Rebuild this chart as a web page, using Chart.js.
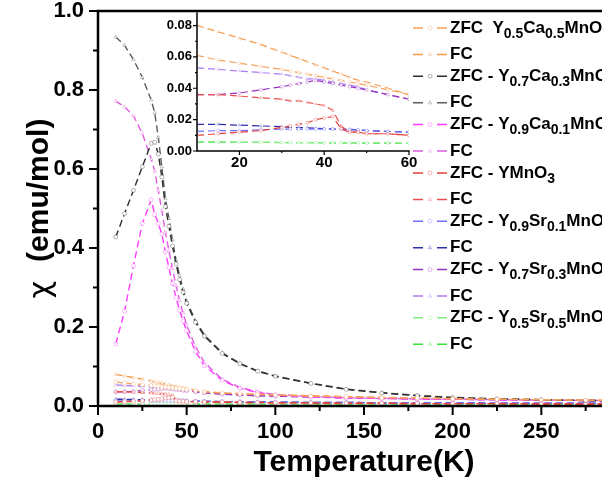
<!DOCTYPE html>
<html>
<head>
<meta charset="utf-8">
<script src="https://cdn.jsdelivr.net/npm/chart.js@4.4.0/dist/chart.umd.min.js"></script>
<style>
  html, body { margin: 0; padding: 0; background: #fff; overflow: hidden; }
  #wrap { position: relative; width: 640px; height: 490px; }
  #main { position: absolute; left: 0; top: 0; }
  #inset { position: absolute; left: 140px; top: 0; }
</style>
</head>
<body>
<div id="wrap">
  <canvas id="main" width="640" height="490"></canvas>
  <canvas id="inset" width="280" height="175"></canvas>
</div>
<script>
// temperature grid (K) shared by every series
const temps = [10, 15, 20, 25, 30, 32, 34, 36, 38, 40, 42, 44, 46, 48, 50, 55, 60, 70, 80, 90, 100, 120, 140, 160, 180, 200, 225, 250, 275, 300];

// susceptibility (emu/mol)
const zfcY05Ca05 = [0.061, 0.058, 0.056, 0.054, 0.052, 0.051, 0.050, 0.049, 0.048, 0.047, 0.046, 0.045, 0.044, 0.043, 0.042, 0.039, 0.036, 0.033, 0.031, 0.029, 0.028, 0.025, 0.023, 0.021, 0.020, 0.018, 0.017, 0.016, 0.015, 0.014];
const fcY05Ca05 = [0.080, 0.076, 0.072, 0.068, 0.063, 0.061, 0.059, 0.057, 0.055, 0.053, 0.051, 0.049, 0.047, 0.045, 0.044, 0.040, 0.036, 0.033, 0.031, 0.030, 0.028, 0.026, 0.024, 0.022, 0.020, 0.019, 0.017, 0.016, 0.015, 0.014];
const zfcY07Ca03 = [0.428, 0.487, 0.546, 0.606, 0.665, 0.668, 0.638, 0.580, 0.505, 0.455, 0.405, 0.360, 0.320, 0.288, 0.260, 0.212, 0.177, 0.133, 0.107, 0.088, 0.075, 0.057, 0.042, 0.033, 0.026, 0.021, 0.018, 0.016, 0.014, 0.013];
const fcY07Ca03 = [0.934, 0.913, 0.877, 0.832, 0.775, 0.742, 0.680, 0.605, 0.525, 0.475, 0.420, 0.370, 0.330, 0.296, 0.266, 0.216, 0.180, 0.135, 0.108, 0.089, 0.076, 0.058, 0.043, 0.034, 0.027, 0.022, 0.018, 0.016, 0.014, 0.013];
const zfcY09Ca01 = [0.157, 0.240, 0.355, 0.462, 0.522, 0.485, 0.462, 0.435, 0.390, 0.350, 0.310, 0.275, 0.242, 0.215, 0.190, 0.138, 0.102, 0.065, 0.045, 0.034, 0.028, 0.023, 0.020, 0.019, 0.018, 0.017, 0.016, 0.015, 0.014, 0.013];
const fcY09Ca01 = [0.772, 0.757, 0.735, 0.690, 0.625, 0.595, 0.545, 0.495, 0.440, 0.393, 0.348, 0.305, 0.268, 0.235, 0.205, 0.150, 0.110, 0.068, 0.047, 0.036, 0.029, 0.024, 0.021, 0.019, 0.018, 0.017, 0.016, 0.015, 0.014, 0.013];
const zfcYMnO3 = [0.010, 0.011, 0.012, 0.013, 0.015, 0.016, 0.017, 0.018, 0.020, 0.021, 0.022, 0.014, 0.012, 0.012, 0.011, 0.011, 0.010, 0.010, 0.009, 0.009, 0.008, 0.008, 0.007, 0.007, 0.006, 0.006, 0.006, 0.005, 0.005, 0.005];
const fcYMnO3 = [0.036, 0.036, 0.035, 0.034, 0.033, 0.032, 0.032, 0.031, 0.030, 0.029, 0.026, 0.016, 0.012, 0.012, 0.011, 0.011, 0.010, 0.010, 0.009, 0.009, 0.008, 0.008, 0.007, 0.007, 0.006, 0.006, 0.006, 0.005, 0.005, 0.005];
const zfcY09Sr01 = [0.0125, 0.013, 0.013, 0.0135, 0.014, 0.014, 0.014, 0.014, 0.014, 0.014, 0.014, 0.014, 0.0135, 0.0135, 0.013, 0.0125, 0.012, 0.011, 0.011, 0.010, 0.010, 0.009, 0.009, 0.008, 0.008, 0.008, 0.007, 0.007, 0.007, 0.006];
const fcY09Sr01 = [0.017, 0.017, 0.0165, 0.016, 0.0155, 0.015, 0.015, 0.0148, 0.0145, 0.0143, 0.014, 0.014, 0.0138, 0.0135, 0.013, 0.0125, 0.012, 0.011, 0.011, 0.010, 0.010, 0.009, 0.009, 0.008, 0.008, 0.008, 0.007, 0.007, 0.007, 0.006];
const zfcY07Sr03 = [0.036, 0.036, 0.037, 0.039, 0.041, 0.042, 0.043, 0.044, 0.045, 0.044, 0.043, 0.042, 0.041, 0.040, 0.039, 0.036, 0.033, 0.030, 0.028, 0.026, 0.025, 0.023, 0.021, 0.020, 0.018, 0.017, 0.016, 0.015, 0.014, 0.013];
const fcY07Sr03 = [0.053, 0.052, 0.051, 0.050, 0.049, 0.048, 0.047, 0.046, 0.046, 0.045, 0.044, 0.043, 0.042, 0.041, 0.039, 0.036, 0.033, 0.030, 0.028, 0.026, 0.025, 0.023, 0.021, 0.020, 0.018, 0.017, 0.016, 0.015, 0.014, 0.013];
const zfcY05Sr05 = [0.0058, 0.0057, 0.0056, 0.0055, 0.0055, 0.0054, 0.0054, 0.0054, 0.0053, 0.0053, 0.0053, 0.0052, 0.0052, 0.0052, 0.0051, 0.0051, 0.0050, 0.0048, 0.0046, 0.0044, 0.0042, 0.0039, 0.0036, 0.0034, 0.0032, 0.0030, 0.0029, 0.0028, 0.0027, 0.0026];
const fcY05Sr05 = [0.0057, 0.0056, 0.0055, 0.0055, 0.0054, 0.0054, 0.0053, 0.0053, 0.0053, 0.0052, 0.0052, 0.0052, 0.0051, 0.0051, 0.0050, 0.0050, 0.0049, 0.0047, 0.0045, 0.0043, 0.0041, 0.0038, 0.0035, 0.0033, 0.0031, 0.0029, 0.0028, 0.0027, 0.0026, 0.0025];

// legend text, _{..} marks a subscript
const seriesLabels = [
    'ZFC  Y_{0.5}Ca_{0.5}MnO_{3}', 'FC',
    'ZFC - Y_{0.7}Ca_{0.3}MnO_{3}', 'FC',
    'ZFC - Y_{0.9}Ca_{0.1}MnO_{3}', 'FC',
    'ZFC - YMnO_{3}', 'FC',
    'ZFC - Y_{0.9}Sr_{0.1}MnO_{3}', 'FC',
    'ZFC - Y_{0.7}Sr_{0.3}MnO_{3}', 'FC',
    'ZFC - Y_{0.5}Sr_{0.5}MnO_{3}', 'FC'
];
const seriesValues = [zfcY05Ca05, fcY05Ca05, zfcY07Ca03, fcY07Ca03, zfcY09Ca01, fcY09Ca01, zfcYMnO3, fcYMnO3,
    zfcY09Sr01, fcY09Sr01, zfcY07Sr03, fcY07Sr03, zfcY05Sr05, fcY05Sr05];

// axis ticks
const xTicks = [0, 50, 100, 150, 200, 250, 300];
const yTicks = [0, 0.2, 0.4, 0.6, 0.8, 1.0];
const insetXTicks = [20, 40, 60];
const insetYTicks = [0, 0.02, 0.04, 0.06, 0.08];

const lineColors = ['#f5a35f', '#f39a4e', '#2e2e2e', '#5c5c5c', '#ff3cff', '#e05ee0', '#e6403a', '#e85050',
    '#6f6fff', '#2e2eaa', '#9a30c0', '#a97cf2', '#80ee80', '#3cdc3c'];

const FONT = "'Liberation Sans', Arial, sans-serif";
Chart.defaults.font.family = FONT;
Chart.defaults.font.weight = 'bold';
Chart.defaults.color = '#000';

function fade(hex, a) {
    const n = parseInt(hex.slice(1), 16);
    return `rgba(${n >> 16}, ${(n >> 8) & 255}, ${n & 255}, ${a})`;
}

function makeDatasets(radius, width) {
    return seriesValues.map((vals, i) => ({
        label: seriesLabels[i],
        data: vals.map((v, k) => ({ x: temps[k], y: v })),
        borderColor: lineColors[i],
        borderWidth: width,
        borderDash: [7, 4],
        pointStyle: i % 2 ? 'triangle' : 'circle',
        pointRadius: radius,
        pointBorderWidth: 0.8,
        pointBorderColor: fade(lineColors[i], 0.45),
        pointBackgroundColor: '#fff',
        tension: 0
    }));
}

// axis lines plus major / minor tick marks
const framePlugin = {
    id: 'frame',
    afterDatasetsDraw(chart, args, o) {
        const { ctx, chartArea: a, scales: { x, y } } = chart;
        ctx.save();
        ctx.strokeStyle = '#000';
        ctx.lineWidth = o.width;
        ctx.lineCap = 'square';
        ctx.beginPath();
        ctx.moveTo(a.left, a.top);
        ctx.lineTo(a.left, a.bottom);
        ctx.lineTo(a.right, a.bottom);
        if (o.box) {
            ctx.lineTo(a.right, a.top);
            ctx.lineTo(a.left, a.top);
        }
        ctx.stroke();

        ctx.lineCap = 'butt';
        ctx.lineWidth = o.tickWidth;
        ctx.beginPath();
        const xs = x.ticks.map(t => t.value);
        const ys = y.ticks.map(t => t.value);
        xs.forEach((v, i) => {
            const p = x.getPixelForValue(v);
            ctx.moveTo(p, a.bottom); ctx.lineTo(p, a.bottom + o.major);
            if (i > 0) {
                const m = x.getPixelForValue((v + xs[i - 1]) / 2);
                ctx.moveTo(m, a.bottom); ctx.lineTo(m, a.bottom + o.minor);
            }
        });
        ys.forEach((v, i) => {
            const p = y.getPixelForValue(v);
            ctx.moveTo(a.left, p); ctx.lineTo(a.left - o.major, p);
            if (i > 0) {
                const m = y.getPixelForValue((v + ys[i - 1]) / 2);
                ctx.moveTo(a.left, m); ctx.lineTo(a.left - o.minor, m);
            }
        });
        ctx.stroke();

        // y title: plain greek chi followed by the bold unit
        if (o.yTitle) {
            const yc = (a.top + a.bottom) / 2;
            ctx.translate(o.yTitle.x, yc);
            ctx.rotate(-Math.PI / 2);
            ctx.fillStyle = '#000';
            ctx.textBaseline = 'middle';
            ctx.textAlign = 'left';
            ctx.font = `30px 'DejaVu Sans', sans-serif`;
            const w1 = ctx.measureText(o.yTitle.symbol + '  ').width;
            ctx.font = `bold 30px ${FONT}`;
            const w2 = ctx.measureText(o.yTitle.unit).width;
            let x0 = -(w1 + w2) / 2;
            ctx.font = `30px 'DejaVu Sans', sans-serif`;
            ctx.fillText(o.yTitle.symbol, x0, 2);
            ctx.font = `bold 30px ${FONT}`;
            ctx.fillText(o.yTitle.unit, x0 + w1, 0);
        }
        ctx.restore();
    }
};

// legend drawn by hand so the chemical formulas get real subscripts
function drawRich(ctx, text, x, y, size, subSize) {
    const parts = text.split(/_\{([^}]*)\}/);
    parts.forEach((s, i) => {
        if (!s) return;
        const sub = i % 2 === 1;
        ctx.font = `bold ${sub ? subSize : size}px ${FONT}`;
        ctx.fillText(s, x, sub ? y + 6 : y);
        x += ctx.measureText(s).width;
    });
}

const legendPlugin = {
    id: 'richLegend',
    afterDraw(chart, args, o) {
        const ctx = chart.ctx;
        chart.data.datasets.forEach((ds, i) => {
            const yy = o.top + Math.floor(i / 2) * o.pair + (i % 2) * o.gap;
            ctx.save();
            ctx.strokeStyle = ds.borderColor;
            ctx.lineWidth = 1.5;
            ctx.beginPath();
            ctx.moveTo(o.x, yy); ctx.lineTo(o.x + 10, yy);
            ctx.moveTo(o.x + 24, yy); ctx.lineTo(o.x + 34, yy);
            ctx.stroke();
            ctx.strokeStyle = ds.pointBorderColor;
            ctx.fillStyle = '#fff';
            ctx.lineWidth = 0.8;
            Chart.helpers.drawPoint(ctx, { pointStyle: ds.pointStyle, radius: 2, borderWidth: 0.8, rotation: 0 }, o.x + 17, yy);
            ctx.fillStyle = '#000';
            ctx.textBaseline = 'middle';
            ctx.textAlign = 'left';
            drawRich(ctx, ds.label, o.x + 37, yy, 17, 14);
            ctx.restore();
        });
    }
};

const setTicks = list => s => { s.ticks = list.map(v => ({ value: v })); };
const fitX = h => s => { s.height = h; s.paddingLeft = 0; s.paddingRight = 0; };
const fitY = w => s => { s.width = w; s.paddingTop = 0; s.paddingBottom = 0; };

new Chart(document.getElementById('main'), {
    type: 'line',
    data: { datasets: makeDatasets(2, 1.4) },
    options: {
        responsive: false,
        animation: false,
        events: [],
        layout: { padding: { top: 11, right: 10, left: 0, bottom: 0 } },
        plugins: {
            legend: { display: false },
            tooltip: { enabled: false },
            frame: { width: 2.5, tickWidth: 2, major: 9, minor: 5, box: true,
                yTitle: { x: 40, symbol: 'χ', unit: '(emu/mol)' } },
            richLegend: { x: 413, top: 28, pair: 48.3, gap: 26.5 }
        },
        scales: {
            x: {
                type: 'linear', min: 0, max: 300,
                afterBuildTicks: setTicks(xTicks),
                afterFit: fitX(84),
                grid: { display: false, drawTicks: false },
                border: { display: false },
                ticks: { font: { size: 22 }, padding: 13, maxRotation: 0, autoSkip: false, callback: v => String(v) },
                title: { display: true, text: 'Temperature(K)', font: { size: 30 }, padding: { top: 0, bottom: 9 } }
            },
            y: {
                type: 'linear', min: 0, max: 1,
                afterBuildTicks: setTicks(yTicks),
                afterFit: fitY(98),
                grid: { display: false, drawTicks: false },
                border: { display: false },
                ticks: { font: { size: 22 }, padding: 14, autoSkip: false, callback: v => v.toFixed(1) },
                title: { display: false }
            }
        }
    },
    plugins: [framePlugin, legendPlugin]
});

// inset: zoom on the low-temperature, low-susceptibility part
new Chart(document.getElementById('inset'), {
    type: 'line',
    data: { datasets: makeDatasets(1.5, 1.2) },
    options: {
        responsive: false,
        animation: false,
        events: [],
        layout: { padding: { top: 13, right: 11, left: 0, bottom: 0 } },
        plugins: {
            legend: { display: false },
            tooltip: { enabled: false },
            frame: { width: 1.5, tickWidth: 1.2, major: 4, minor: 2, box: false }
        },
        scales: {
            x: {
                type: 'linear', min: 10, max: 60,
                afterBuildTicks: setTicks(insetXTicks),
                afterFit: fitX(24),
                grid: { display: false, drawTicks: false },
                border: { display: false },
                ticks: { font: { size: 15 }, padding: 3, maxRotation: 0, autoSkip: false, callback: v => String(v) }
            },
            y: {
                type: 'linear', min: 0, max: 0.088,
                afterBuildTicks: setTicks(insetYTicks),
                afterFit: fitY(57),
                grid: { display: false, drawTicks: false },
                border: { display: false },
                ticks: { font: { size: 13 }, padding: 5, autoSkip: false, callback: v => v.toFixed(2) }
            }
        }
    },
    plugins: [framePlugin]
});
</script>
</body>
</html>
